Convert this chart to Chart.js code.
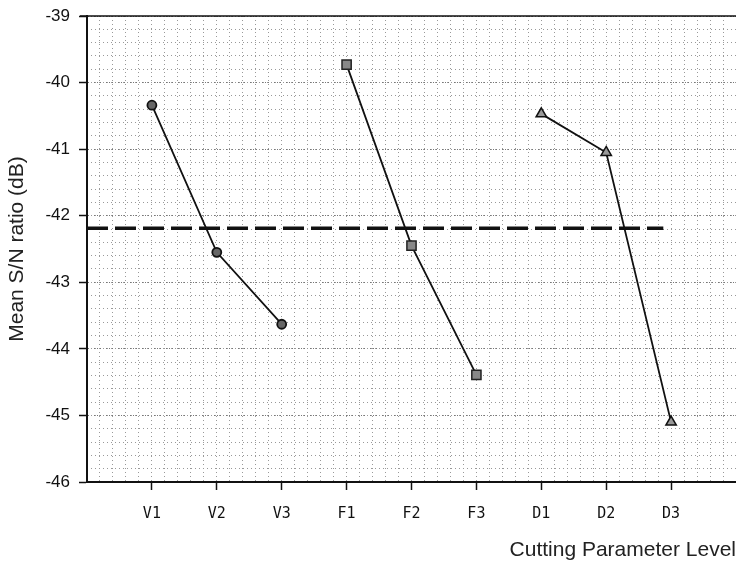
<!DOCTYPE html>
<html>
<head>
<meta charset="utf-8">
<script src="https://cdn.jsdelivr.net/npm/chart.js@4.4.1/dist/chart.umd.min.js"></script>
<style>
html,body{margin:0;padding:0;background:#fff;overflow:hidden;}
#wrap{width:736px;height:564px;overflow:hidden;position:relative;}
#c{position:absolute;left:0;top:0;}
</style>
</head>
<body>
<div id="wrap"><canvas id="c" width="744" height="564"></canvas></div>
<script>
// Category labels (positions 1..9 on the x axis; 0 and 10 are empty edges)
const categories = ['', 'V1', 'V2', 'V3', 'F1', 'F2', 'F3', 'D1', 'D2', 'D3', ''];
// Mean S/N ratio (dB) per level
const speedValues = [-40.34, -42.55, -43.63];   // V1..V3
const feedValues  = [-39.73, -42.45, -44.39];   // F1..F3
const depthValues = [-40.47, -41.05, -45.10];   // D1..D3
// Overall mean S/N ratio (dashed reference line) and its extent on the x axis
const overallMean = -42.19;
const meanLineStart = 0;
const meanLineEnd = 8.88;
// Y axis tick range
const yMin = -46, yMax = -39;

const xIdx = (lab) => categories.indexOf(lab);
const mk = (labs, vals) => labs.map((l, i) => ({x: xIdx(l), y: vals[i]}));

const data = {
  datasets: [
    {
      label: 'mean',
      data: [{x: meanLineStart, y: overallMean}, {x: meanLineEnd, y: overallMean}],
      borderColor: '#111', borderWidth: 3.5, borderDash: [21, 7],
      pointRadius: 0, showLine: true, order: 3
    },
    {
      label: 'V',
      data: mk(['V1','V2','V3'], speedValues),
      borderColor: '#111', borderWidth: 1.8, showLine: true,
      pointStyle: 'circle', pointRadius: 4.5, pointBackgroundColor: '#666',
      pointBorderColor: '#111', pointBorderWidth: 1.8, order: 1
    },
    {
      label: 'F',
      data: mk(['F1','F2','F3'], feedValues),
      borderColor: '#111', borderWidth: 1.8, showLine: true,
      pointStyle: 'rect', pointRadius: 6.5, pointBackgroundColor: '#888',
      pointBorderColor: '#222', pointBorderWidth: 1.5, order: 1
    },
    {
      label: 'D',
      data: mk(['D1','D2','D3'], depthValues),
      borderColor: '#111', borderWidth: 1.8, showLine: true,
      pointStyle: 'triangle', pointRadius: 6, pointBackgroundColor: '#999',
      pointBorderColor: '#111', pointBorderWidth: 1.5, order: 1
    }
  ]
};

const chart = new Chart(document.getElementById('c'), {
  type: 'scatter',
  data: data,
  options: {
    responsive: false,
    animation: false,
    layout: {padding: {top: 16, right: 0, left: 0, bottom: 0}},
    plugins: {legend: {display: false}, tooltip: {enabled: false}},
    scales: {
      x: {
        type: 'linear', min: 0, max: categories.length - 1,
        afterBuildTicks: (s) => { s.ticks = categories.map((c, i) => ({value: i})); },
        afterFit: (s) => { s.height = 82; s.paddingLeft = 0; s.paddingRight = 0; },
        ticks: {
          autoSkip: false, maxRotation: 0, padding: 15,
          color: '#111',
          font: {family: 'DejaVu Sans Mono', size: 15},
          callback: (v) => categories[v] || ''
        },
        grid: {
          color: (ctx) => (ctx.tick && (ctx.index === 0 || ctx.index === categories.length - 1)) ? 'rgba(0,0,0,0)' : '#777',
          lineWidth: 1, drawOnChartArea: true, drawTicks: true, tickLength: 8,
          tickColor: (ctx) => (ctx.index === 0 || ctx.index === categories.length - 1) ? 'rgba(0,0,0,0)' : '#111',
          tickWidth: 1.5
        },
        border: {display: true, color: '#111', width: 2, dash: [1, 3]},
        title: {
          display: true, text: 'Cutting Parameter Level', align: 'end',
          color: '#222', font: {family: 'Liberation Sans', size: 21},
          padding: {top: 0, bottom: 1}
        }
      },
      xm: {
        type: 'linear', min: 0, max: categories.length - 1, display: true,
        position: 'bottom',
        afterFit: (s) => { s.height = 0; s.paddingLeft = 0; s.paddingRight = 0; },
        ticks: {display: false, stepSize: 0.2},
        grid: {color: '#999', lineWidth: 1, drawTicks: false},
        border: {display: false, dash: [1, 3]}
      },
      y: {
        type: 'linear', min: yMin, max: yMax,
        afterFit: (s) => { s.width = 87; s.paddingTop = 0; s.paddingBottom = 0; },
        ticks: {
          stepSize: 1, padding: 9, color: '#111',
          font: {family: 'Liberation Sans', size: 17}
        },
        grid: {color: '#777', lineWidth: 1, tickLength: 8, tickColor: '#111', tickWidth: 1.5},
        border: {display: true, color: '#111', width: 2, dash: [1, 2]},
        title: {
          display: true, text: 'Mean S/N ratio (dB)',
          color: '#222', font: {family: 'Liberation Sans', size: 21},
          padding: {top: 5, bottom: 0}
        }
      },
      ym: {
        type: 'linear', min: yMin, max: yMax, display: true, position: 'left',
        afterFit: (s) => { s.width = 0; s.paddingTop = 0; s.paddingBottom = 0; },
        ticks: {display: false, stepSize: 0.2},
        grid: {color: '#999', lineWidth: 1, drawTicks: false},
        border: {display: false, dash: [1, 3]}
      }
    }
  },
  plugins: [{
    id: 'topBorder',
    afterDraw(c) {
      const a = c.chartArea, ctx = c.ctx;
      ctx.save();
      ctx.strokeStyle = '#111';
      ctx.lineWidth = 1.5;
      ctx.beginPath();
      ctx.moveTo(a.left - 7, a.top);
      ctx.lineTo(a.right, a.top);
      ctx.stroke();
      ctx.restore();
    }
  }]
});
</script>
</body>
</html>
